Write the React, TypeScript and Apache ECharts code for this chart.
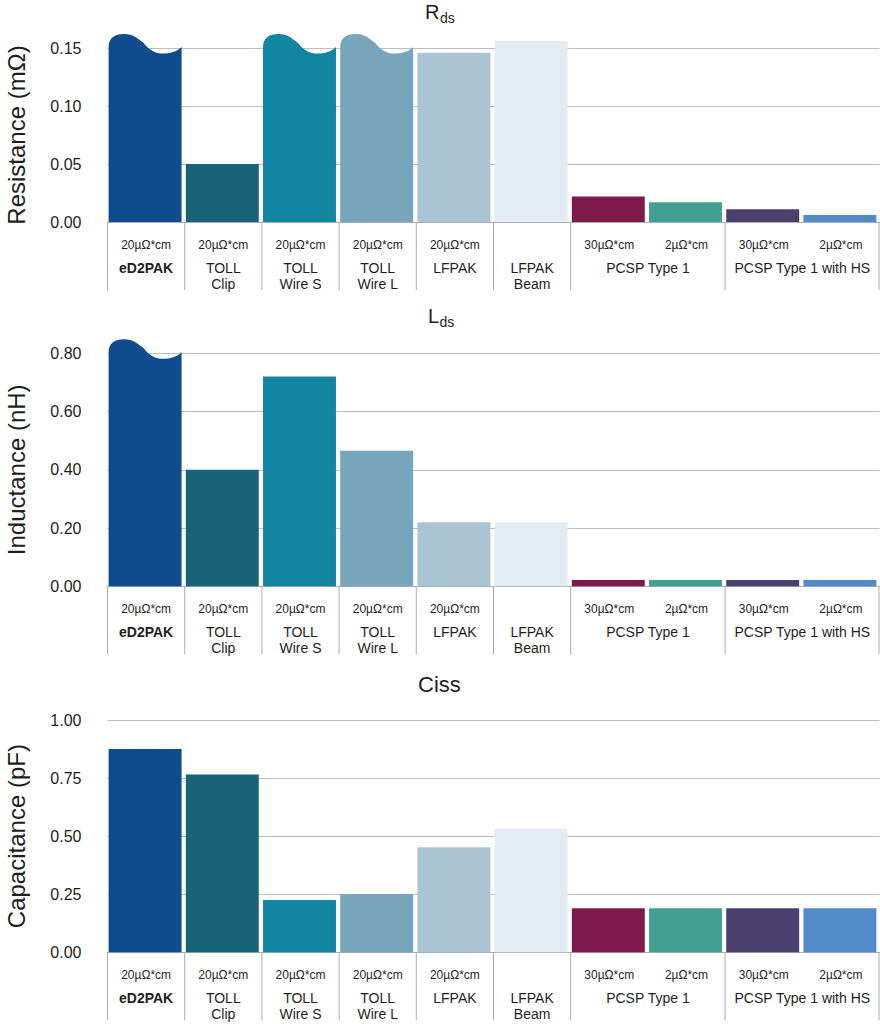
import React, { useEffect, useRef } from "react";
import * as echarts from "echarts";

const categories = [
  "eD2PAK",
  "TOLL Clip",
  "TOLL Wire S",
  "TOLL Wire L",
  "LFPAK",
  "LFPAK Beam",
  "PCSP Type 1 30µΩ*cm",
  "PCSP Type 1 2µΩ*cm",
  "PCSP Type 1 with HS 30µΩ*cm",
  "PCSP Type 1 with HS 2µΩ*cm",
];
const subLabels = [
  "20µΩ*cm",
  "20µΩ*cm",
  "20µΩ*cm",
  "20µΩ*cm",
  "20µΩ*cm",
  "",
  "30µΩ*cm",
  "2µΩ*cm",
  "30µΩ*cm",
  "2µΩ*cm",
];
const groupNames = [
  "eD2PAK",
  "TOLL\nClip",
  "TOLL\nWire S",
  "TOLL\nWire L",
  "LFPAK",
  "LFPAK\nBeam",
  "PCSP Type 1",
  "PCSP Type 1 with HS",
];
const groupStart = [0, 1, 2, 3, 4, 5, 6, 8];
const groupEnd = [0, 1, 2, 3, 4, 5, 7, 9];
const colors = [
  "#0e4c8e",
  "#186378",
  "#1285a0",
  "#77a5bc",
  "#abc4d3",
  "#e3ecf4",
  "#7e1a4a",
  "#43a091",
  "#4b3f6e",
  "#528bc9",
];

// Rds (mΩ); broken bars are cut at axis max
const rdsValues = [0.15, 0.05, 0.15, 0.15, 0.146, 0.156, 0.022, 0.017, 0.011, 0.006];
const rdsBroken = [true, false, true, true, false, false, false, false, false, false];
const rdsTicks = { min: 0, max: 0.15, interval: 0.05 };

// Lds (nH)
const ldsValues = [0.8, 0.4, 0.72, 0.465, 0.22, 0.22, 0.022, 0.022, 0.022, 0.022];
const ldsBroken = [true, false, false, false, false, false, false, false, false, false];
const ldsTicks = { min: 0, max: 0.8, interval: 0.2 };

// Ciss (pF)
const cissValues = [0.875, 0.765, 0.225, 0.25, 0.452, 0.532, 0.19, 0.19, 0.19, 0.19];
const cissBroken = [false, false, false, false, false, false, false, false, false, false];
const cissTicks = { min: 0, max: 1, interval: 0.25 };

const FONT = "'Liberation Sans', Arial, Helvetica, sans-serif";
const TEXT = "#1e1e1e";
const GRID_LINE = "#b9bdc6";
const SEP_LINE = "#a9adb5";

function barSeries(idx: number, values: number[], broken: boolean[]) {
  return {
    type: "custom",
    xAxisIndex: idx,
    yAxisIndex: idx,
    clip: false,
    encode: { x: 0, y: 1 },
    data: values.map((v, i) => [i, v]),
    renderItem: (params: any, api: any) => {
      const i = api.value(0);
      const v = api.value(1);
      const top = api.coord([i, v]);
      const base = api.coord([i, 0]);
      const w = api.size([1, 0])[0] * 0.945;
      const x0 = top[0] - w / 2 - 1;
      const yc = top[1];
      const yb = base[1];
      const fill = colors[i];
      if (broken[i]) {
        const X = (f: number) => (x0 + f * w).toFixed(2);
        const Y = (d: number) => (yc + d).toFixed(2);
        const d =
          `M${X(0)},${Y(yb - yc)} L${X(0)},${Y(-1)} ` +
          `C${X(0)},${Y(-10)} ${X(0.08)},${Y(-14)} ${X(0.21)},${Y(-14)} ` +
          `C${X(0.34)},${Y(-14)} ${X(0.41)},${Y(-9)} ${X(0.48)},${Y(-5)} ` +
          `C${X(0.56)},${Y(3)} ${X(0.66)},${Y(6)} ${X(0.77)},${Y(5.5)} ` +
          `C${X(0.89)},${Y(5)} ${X(0.96)},${Y(2)} ${X(1)},${Y(-1)} ` +
          `L${X(1)},${Y(yb - yc)} Z`;
        return { type: "path", shape: { pathData: d }, style: { fill } };
      }
      return {
        type: "rect",
        shape: { x: x0, y: yc, width: w, height: yb - yc },
        style: { fill },
      };
    },
    z: 3,
  };
}

function labelSeries(idx: number) {
  return {
    type: "custom",
    xAxisIndex: idx,
    yAxisIndex: idx,
    clip: false,
    silent: true,
    encode: { x: 0, y: 1 },
    data: groupStart.map((s, i) => [s, 0, groupEnd[i]]),
    renderItem: (params: any, api: any) => {
      const gi = params.dataIndex;
      const s = api.value(0);
      const e = api.value(2);
      const p0 = api.coord([s, 0]);
      const p1 = api.coord([e, 0]);
      const cw = api.size([1, 0])[0];
      const left = p0[0] - cw / 2;
      const right = p1[0] + cw / 2;
      const y0 = p0[1];
      const children: any[] = [
        {
          type: "line",
          shape: { x1: left, y1: y0, x2: left, y2: y0 + 68 },
          style: { stroke: SEP_LINE, lineWidth: 1 },
        },
        {
          type: "text",
          x: (p0[0] + p1[0]) / 2,
          y: y0 + 38,
          style: {
            text: groupNames[gi],
            fill: TEXT,
            fontSize: 14,
            fontFamily: FONT,
            fontWeight: gi === 0 ? "bold" : "normal",
            align: "center",
            verticalAlign: "top",
            lineHeight: 16,
          },
        },
      ];
      if (gi === groupStart.length - 1) {
        children.push({
          type: "line",
          shape: { x1: right - 0.5, y1: y0, x2: right - 0.5, y2: y0 + 68 },
          style: { stroke: SEP_LINE, lineWidth: 1 },
        });
      }
      return { type: "group", children };
    },
    z: 2,
  };
}

function makeX(idx: number) {
  return {
    type: "category",
    gridIndex: idx,
    data: categories,
    axisLine: { show: true, lineStyle: { color: SEP_LINE, width: 1 } },
    axisTick: { show: false },
    splitLine: { show: false },
    axisLabel: {
      interval: 0,
      margin: 17,
      fontSize: 12,
      color: TEXT,
      fontFamily: FONT,
      formatter: (_v: string, i: number) => subLabels[i],
    },
  };
}

function makeY(idx: number, ticks: any, name: string) {
  return {
    type: "value",
    gridIndex: idx,
    min: ticks.min,
    max: ticks.max,
    interval: ticks.interval,
    name,
    nameLocation: "middle",
    nameGap: 79,
    nameTextStyle: { fontSize: 24, color: TEXT, fontFamily: FONT },
    axisLine: { show: false },
    axisTick: { show: false },
    splitLine: { show: true, lineStyle: { color: GRID_LINE, width: 1 } },
    axisLabel: {
      fontSize: 16,
      color: TEXT,
      fontFamily: FONT,
      margin: 26,
      formatter: (v: number) => v.toFixed(2),
    },
  };
}

function titleGraphic(main: string, sub: string, x: number, subDx: number, yMain: number, mainSize: number) {
  const children: any[] = [
    {
      type: "text",
      x: x,
      y: yMain,
      style: {
        text: main,
        fontSize: mainSize,
        fontFamily: FONT,
        fill: TEXT,
        align: "left",
        verticalAlign: "middle",
      },
    },
  ];
  if (sub) {
    children.push({
      type: "text",
      x: x + subDx,
      y: yMain + 6,
      style: {
        text: sub,
        fontSize: 14,
        fontFamily: FONT,
        fill: TEXT,
        align: "left",
        verticalAlign: "middle",
      },
    });
  }
  return { type: "group", children };
}

export default function App() {
  const ref = useRef<HTMLDivElement>(null);
  useEffect(() => {
    if (!ref.current) return;
    const chart = echarts.init(ref.current, null, { renderer: "svg" });
    chart.setOption({
      animation: false,
      backgroundColor: "#ffffff",
      textStyle: { fontFamily: FONT },
      grid: [
        { left: 107.5, right: 0.5, top: 48, height: 174, outerBoundsMode: "none", containLabel: false },
        { left: 107.5, right: 0.5, top: 353.3, height: 233, outerBoundsMode: "none", containLabel: false },
        { left: 107.5, right: 0.5, top: 720, height: 232.3, outerBoundsMode: "none", containLabel: false },
      ],
      xAxis: [makeX(0), makeX(1), makeX(2)],
      yAxis: [
        makeY(0, rdsTicks, "Resistance (mΩ)"),
        makeY(1, ldsTicks, "Inductance (nH)"),
        makeY(2, cissTicks, "Capacitance (pF)"),
      ],
      graphic: [
        titleGraphic("R", "ds", 425, 15, 12, 20),
        titleGraphic("L", "ds", 428, 11.5, 316, 20),
        titleGraphic("Ciss", "", 418, 0, 684, 22),
      ],
      series: [
        barSeries(0, rdsValues, rdsBroken),
        labelSeries(0),
        barSeries(1, ldsValues, ldsBroken),
        labelSeries(1),
        barSeries(2, cissValues, cissBroken),
        labelSeries(2),
      ],
    });
    return () => chart.dispose();
  }, []);
  return (
    <div
      ref={ref}
      style={{ position: "absolute", left: 0, top: 0, width: 880, height: 1024 }}
    />
  );
}
